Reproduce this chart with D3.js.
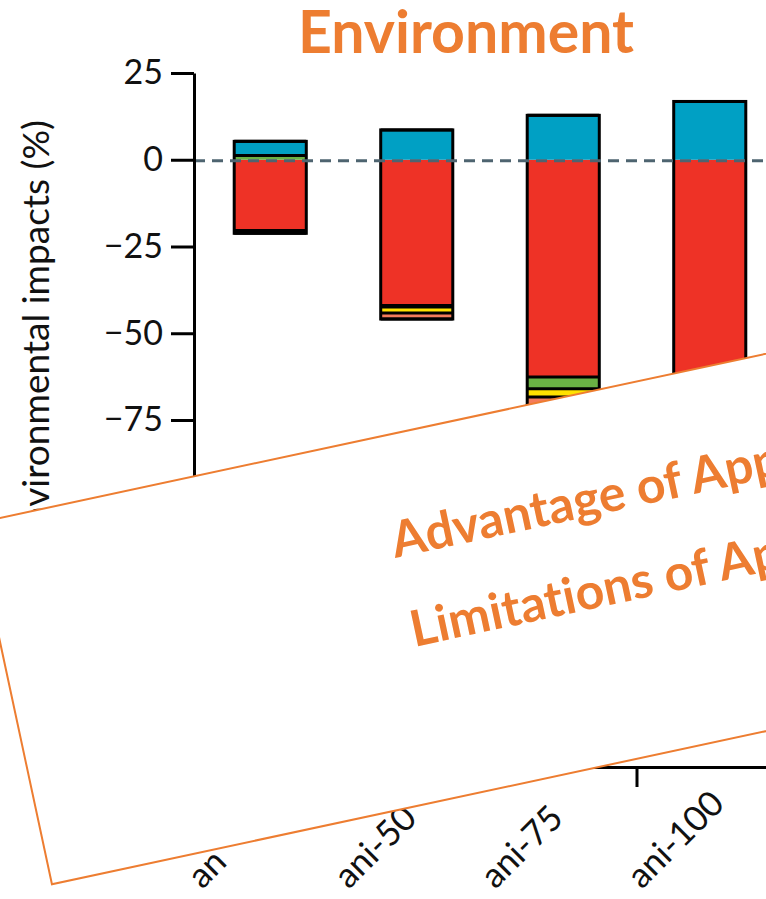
<!DOCTYPE html>
<html lang="en">
<head>
    <meta charset="UTF-8">
    <title>Environment</title>
    <script type="text/javascript" src="https://cdn.jsdelivr.net/npm/d3@7"></script>
    <style>
        body { margin: 0; background: #fff; }
        svg { display: block; font-family: Lato, "Open Sans", sans-serif; font-variant-ligatures: none; }
    </style>
</head>
<body>
<svg id="chart" width="766" height="899"></svg>
<script>
    // categories and stacked series (percent change)
    var categories = ["an", "ani-50", "ani-75", "ani-100"];
    var redVals    = [-20.4, -42.0, -62.6, -83.0];
    var greenVals  = [1.2, -0.4, -3.4, -4.5];
    var yellowVals = [-0.4, -1.8, -2.4, -3.2];
    var salmonVals = [-0.4, -1.7, -2.5, -3.3];
    var blueVals   = [4.1, 8.6, 12.8, 16.8];
    var yTicks = [25, 0, -25, -50, -75, -100, -125, -150, -175];
    var noteLines = ["Advantage of Approach", "Limitations of Approach"];

    var keys = ["red", "green", "yellow", "salmon", "blue"];
    var colors = {red: "#EE3226", green: "#6AB244", yellow: "#FFE100", salmon: "#F47B5B", blue: "#00A0C4"};
    var orange = "#ED7D31";

    var rows = categories.map(function(c, i) {
        return {cat: c, red: redVals[i], green: greenVals[i], yellow: yellowVals[i], salmon: salmonVals[i], blue: blueVals[i]};
    });
    var series = d3.stack().keys(keys).offset(d3.stackOffsetDiverging)(rows);

    var svg = d3.select("#chart");
    var x = d3.scaleBand().domain(categories).range([197, 783]).paddingInner(0.508).paddingOuter(0.254);
    var y = d3.scaleLinear().domain([-175, 25]).range([767, 73]);
    var bw = x.bandwidth();

    // title
    svg.append("text")
        .attr("x", 466).attr("y", 53)
        .attr("text-anchor", "middle")
        .attr("font-size", 59).attr("font-weight", "bold")
        .attr("fill", orange)
        .text("Environment");

    // bar fills
    var bars = svg.append("g");
    series.forEach(function(s) {
        bars.selectAll(null)
            .data(s.filter(function(d) { return d[1] !== d[0]; }))
            .enter().append("rect")
            .attr("x", function(d) { return x(d.data.cat); })
            .attr("y", function(d) { return y(Math.max(d[0], d[1])); })
            .attr("width", bw)
            .attr("height", function(d) { return Math.abs(y(d[0]) - y(d[1])); })
            .attr("fill", colors[s.key]);
    });
    // separators on the outer edge of each segment
    series.forEach(function(s) {
        bars.selectAll(null)
            .data(s.filter(function(d) { return d[1] !== d[0]; }))
            .enter().append("line")
            .attr("x1", function(d) { return x(d.data.cat); })
            .attr("x2", function(d) { return x(d.data.cat) + bw; })
            .attr("y1", function(d) { return y(d[0] >= 0 ? d[1] : d[0]); })
            .attr("y2", function(d) { return y(d[0] >= 0 ? d[1] : d[0]); })
            .attr("stroke", "#000").attr("stroke-width", 3);
    });
    // outline of whole bar
    bars.selectAll(null)
        .data(rows)
        .enter().append("rect")
        .attr("x", function(d) { return x(d.cat); })
        .attr("y", function(d) { return y(d3.sum(keys, function(k) { return Math.max(0, d[k]); })); })
        .attr("width", bw)
        .attr("height", function(d) {
            var pos = d3.sum(keys, function(k) { return Math.max(0, d[k]); });
            var neg = d3.sum(keys, function(k) { return Math.min(0, d[k]); });
            return y(neg) - y(pos);
        })
        .attr("fill", "none").attr("stroke", "#000").attr("stroke-width", 3);

    // zero line
    svg.append("line")
        .attr("x1", 194).attr("x2", 766)
        .attr("y1", y(0) + 1).attr("y2", y(0) + 1)
        .attr("stroke", "#4E6470").attr("stroke-width", 3)
        .attr("stroke-dasharray", "11,7");

    // y axis
    var yAxis = svg.append("g")
        .attr("transform", "translate(194,0)")
        .call(d3.axisLeft(y).tickValues(yTicks).tickSize(23).tickSizeOuter(0).tickPadding(8).tickFormat(d3.format("d")));
    yAxis.selectAll("path, line").attr("stroke", "#000").attr("stroke-width", 3);
    yAxis.selectAll("text").attr("font-size", 34).attr("font-family", "Lato, sans-serif").attr("fill", "#111");

    // x axis: ticks sit between categories
    var xb = d3.scaleLinear().domain([0, categories.length]).range(x.range());
    var xAxis = svg.append("g")
        .attr("transform", "translate(0," + y(-175) + ")")
        .call(d3.axisBottom(xb).tickValues(d3.range(0, categories.length + 1)).tickSize(20).tickSizeOuter(0).tickFormat(""));
    xAxis.selectAll("path, line").attr("stroke", "#000").attr("stroke-width", 3);

    svg.append("g").selectAll("text")
        .data(categories)
        .enter().append("text")
        .attr("transform", function(d) { return "translate(" + (x(d) + bw / 2 - 68) + ",890) rotate(-45)"; })
        .attr("text-anchor", "start")
        .attr("font-size", 35).attr("fill", "#111")
        .text(function(d) { return d; });

    // y axis title
    svg.append("text")
        .attr("transform", "translate(49,120) rotate(-90)")
        .attr("text-anchor", "end")
        .attr("font-size", 37).attr("fill", "#111")
        .text("Environmental impacts (%)");

    // tilted note box laid over the chart
    var note = svg.append("g").attr("transform", "translate(-25.4,523.4) rotate(-12.1)");
    note.append("rect")
        .attr("width", 1100).attr("height", 369)
        .attr("fill", "#fff").attr("stroke", orange).attr("stroke-width", 2);
    note.selectAll("text")
        .data(noteLines)
        .enter().append("text")
        .attr("x", 404).attr("y", function(d, i) { return 122 + i * 91; })
        .attr("font-size", 50).attr("font-weight", "bold")
        .attr("fill", orange)
        .text(function(d) { return d; });
</script>
</body>
</html>
